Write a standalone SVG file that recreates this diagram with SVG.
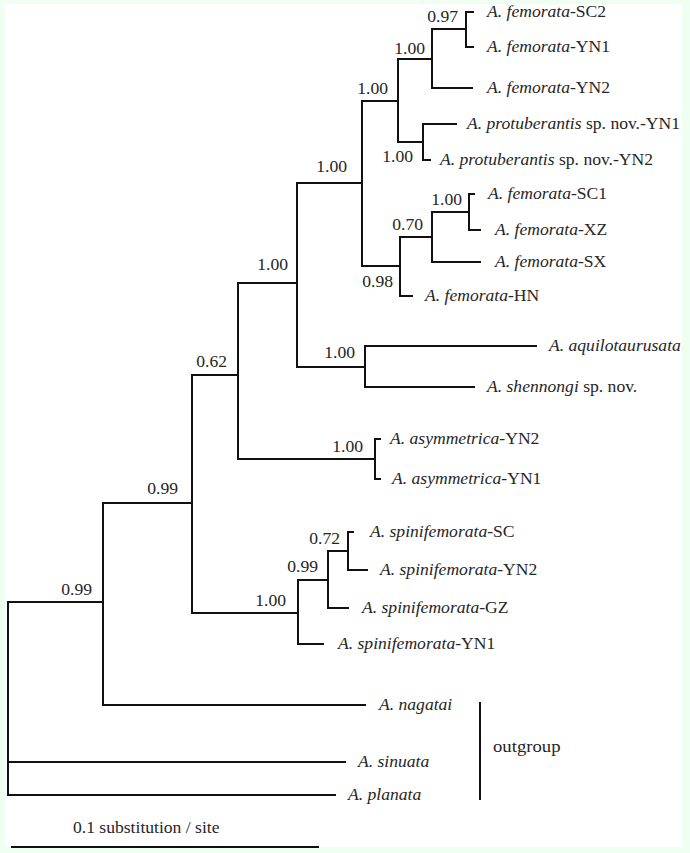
<svg xmlns="http://www.w3.org/2000/svg" width="690" height="853" viewBox="0 0 690 853">
<style>
.br{fill:none;stroke:#111;stroke-width:2;stroke-linejoin:miter;stroke-linecap:square}
text{font-family:"Liberation Serif","Times New Roman",serif;font-size:16px;fill:#262626}
.i{font-style:italic}
.s{text-anchor:end}
.og{font-size:17px}
</style>
<rect x="0" y="0" width="690" height="853" fill="#effff2"/>
<rect x="5" y="4" width="677" height="843" fill="#ffffff"/>
<g id="connectors">
<path class="br" d="M103,602 H8 V795 H335 M8,762 H345"/>
<path class="br" d="M192,503 H103 V705 H365"/>
<path class="br" d="M238,375 H192 V613 H298"/>
<path class="br" d="M297,283 H238 V459 H375"/>
<path class="br" d="M362,183 H297 V367 H365"/>
<path class="br" d="M398,101 H362 V266 H400"/>
<path class="br" d="M432,59 H398 V142 H423"/>
<path class="br" d="M466,29 H432 V88 H472"/>
<path class="br" d="M473,12 H466 V47 H473"/>
<path class="br" d="M456,124 H423 V160 H430"/>
<path class="br" d="M432,237 H400 V296 H412"/>
<path class="br" d="M469,212 H432 V262 H480"/>
<path class="br" d="M474,194 H469 V230 H480"/>
<path class="br" d="M536,346 H365 V387 H474"/>
<path class="br" d="M380,439 H375 V479 H380"/>
<path class="br" d="M328,580 H298 V644 H323"/>
<path class="br" d="M348,551 H328 V608 H348"/>
<path class="br" d="M353,532 H348 V570 H367"/>
<path class="br" d="M480,703 V799"/>
<path class="br" d="M12,847 H318"/>
</g>
<g id="supports">
<g id="n-fem1"><text class="s" transform="translate(458,22) scale(1.1,1)">0.97</text></g>
<g id="n-fem2"><text class="s" transform="translate(425,54) scale(1.1,1)">1.00</text></g>
<g id="n-a"><text class="s" transform="translate(388,94) scale(1.1,1)">1.00</text></g>
<g id="n-prot"><text class="s" transform="translate(413,162) scale(1.1,1)">1.00</text></g>
<g id="n-b"><text class="s" transform="translate(347,172) scale(1.1,1)">1.00</text></g>
<g id="n-sc1xz"><text class="s" transform="translate(462,205) scale(1.1,1)">1.00</text></g>
<g id="n-070"><text class="s" transform="translate(423,230) scale(1.1,1)">0.70</text></g>
<g id="n-098"><text class="s" transform="translate(393,287) scale(1.1,1)">0.98</text></g>
<g id="n-c"><text class="s" transform="translate(288,270) scale(1.1,1)">1.00</text></g>
<g id="n-aq"><text class="s" transform="translate(355,358) scale(1.1,1)">1.00</text></g>
<g id="n-d"><text class="s" transform="translate(227,367) scale(1.1,1)">0.62</text></g>
<g id="n-asym"><text class="s" transform="translate(363,452) scale(1.1,1)">1.00</text></g>
<g id="n-e"><text class="s" transform="translate(178,494) scale(1.1,1)">0.99</text></g>
<g id="n-072"><text class="s" transform="translate(340,544) scale(1.1,1)">0.72</text></g>
<g id="n-099s"><text class="s" transform="translate(318,572) scale(1.1,1)">0.99</text></g>
<g id="n-spini"><text class="s" transform="translate(286,606) scale(1.1,1)">1.00</text></g>
<g id="n-f"><text class="s" transform="translate(92,595) scale(1.1,1)">0.99</text></g>
</g>
<g id="tips">
<g id="t-fem-sc2"><text transform="translate(487,17) scale(1.1,1)"><tspan class="i">A. femorata</tspan>-SC2</text></g>
<g id="t-fem-yn1"><text transform="translate(487,52) scale(1.1,1)"><tspan class="i">A. femorata</tspan>-YN1</text></g>
<g id="t-fem-yn2"><text transform="translate(487,93) scale(1.1,1)"><tspan class="i">A. femorata</tspan>-YN2</text></g>
<g id="t-prot-yn1"><text transform="translate(467,129) scale(1.1,1)"><tspan class="i">A. protuberantis</tspan> sp. nov.-YN1</text></g>
<g id="t-prot-yn2"><text transform="translate(440,165) scale(1.1,1)"><tspan class="i">A. protuberantis</tspan> sp. nov.-YN2</text></g>
<g id="t-fem-sc1"><text transform="translate(488,199) scale(1.1,1)"><tspan class="i">A. femorata</tspan>-SC1</text></g>
<g id="t-fem-xz"><text transform="translate(495,235) scale(1.1,1)"><tspan class="i">A. femorata</tspan>-XZ</text></g>
<g id="t-fem-sx"><text transform="translate(495,267) scale(1.1,1)"><tspan class="i">A. femorata</tspan>-SX</text></g>
<g id="t-fem-hn"><text transform="translate(425,301) scale(1.1,1)"><tspan class="i">A. femorata</tspan>-HN</text></g>
<g id="t-aquilo"><text transform="translate(549,351) scale(1.1,1)"><tspan class="i">A. aquilotaurusata</tspan></text></g>
<g id="t-shennongi"><text transform="translate(487,392) scale(1.1,1)"><tspan class="i">A. shennongi</tspan> sp. nov.</text></g>
<g id="t-asym-yn2"><text transform="translate(390,444) scale(1.1,1)"><tspan class="i">A. asymmetrica</tspan>-YN2</text></g>
<g id="t-asym-yn1"><text transform="translate(392,484) scale(1.1,1)"><tspan class="i">A. asymmetrica</tspan>-YN1</text></g>
<g id="t-spini-sc"><text transform="translate(370,537) scale(1.1,1)"><tspan class="i">A. spinifemorata</tspan>-SC</text></g>
<g id="t-spini-yn2"><text transform="translate(380,575) scale(1.1,1)"><tspan class="i">A. spinifemorata</tspan>-YN2</text></g>
<g id="t-spini-gz"><text transform="translate(362,613) scale(1.1,1)"><tspan class="i">A. spinifemorata</tspan>-GZ</text></g>
<g id="t-spini-yn1"><text transform="translate(338,649) scale(1.1,1)"><tspan class="i">A. spinifemorata</tspan>-YN1</text></g>
<g id="t-nagatai"><text transform="translate(379,710) scale(1.1,1)"><tspan class="i">A. nagatai</tspan></text></g>
<g id="t-sinuata"><text transform="translate(358,767) scale(1.1,1)"><tspan class="i">A. sinuata</tspan></text></g>
<g id="t-planata"><text transform="translate(348,800) scale(1.1,1)"><tspan class="i">A. planata</tspan></text></g>
</g>
<g id="outgroup"><text class="og" transform="translate(493,752) scale(1.1,1)">outgroup</text></g>
<g id="scale"><text transform="translate(73,833) scale(1.1,1)">0.1 substitution / site</text></g>
</svg>
